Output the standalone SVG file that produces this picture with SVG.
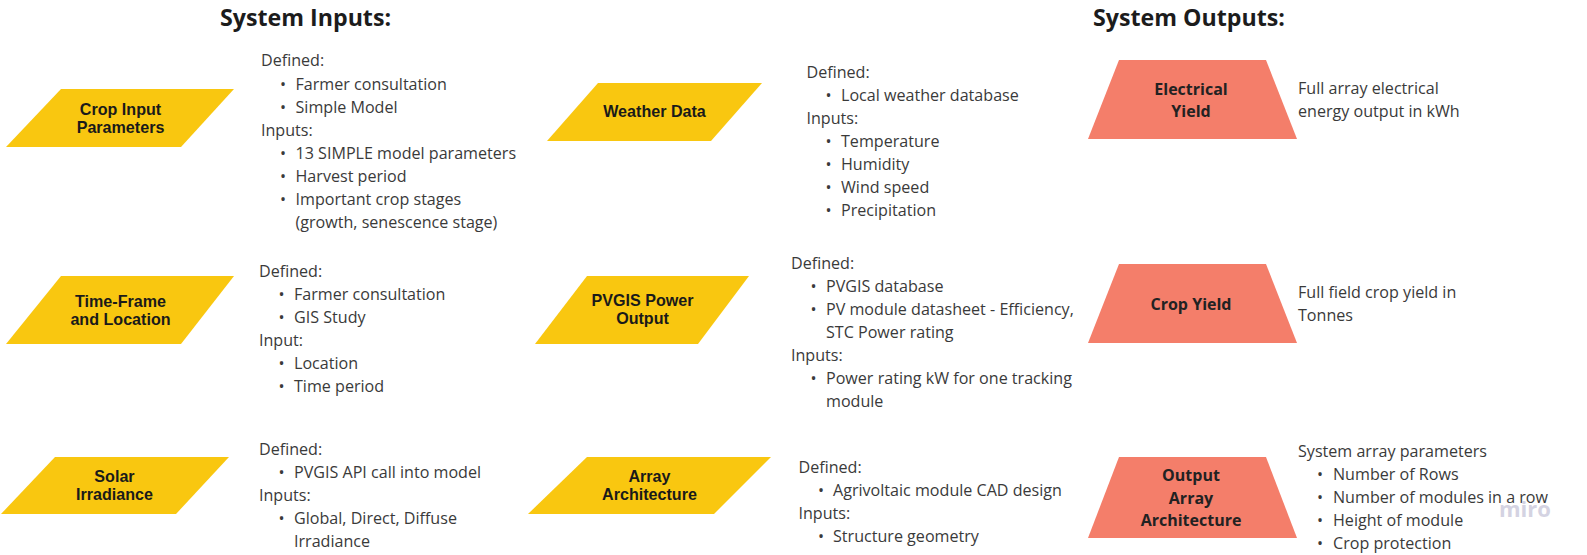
<svg xmlns="http://www.w3.org/2000/svg" width="1587" height="555" viewBox="0 0 1587 555">
<style>
.title{font-family:"Open Sans","Liberation Sans",sans-serif;font-weight:bold;font-size:23.2px;fill:#1c1c1c}
.in{fill:#F9C710}
.out{fill:#F47E6A}
.nl{font-family:"Liberation Sans",Arial,sans-serif;font-weight:bold;font-size:16.1px;fill:#1a1a1a;text-anchor:middle}
.ol{font-family:"Open Sans","Liberation Sans",sans-serif;font-weight:bold;font-size:16px;fill:#222;text-anchor:middle}
.tx{font-family:"Open Sans","Liberation Sans",sans-serif;font-size:16.1px;fill:#3a3a3a}
.miro{font-family:"Open Sans","Liberation Sans",sans-serif;font-weight:bold;font-size:22px;fill:#d4d3e2}
</style>
<rect width="1587" height="555" fill="#ffffff"/>
<text class="title" x="220" y="26">System Inputs:</text>
<text class="title" x="1093" y="26">System Outputs:</text>
<g id="connectors"></g>

<g id="crop-input">
<polygon class="in" points="61,89 234,89 181,147 6,147"/>
<text class="nl" x="120.5" y="115">Crop Input</text>
<text class="nl" x="120.5" y="133">Parameters</text>
<text class="tx" x="261" y="66">Defined:</text>
<text class="tx" x="280" y="90">•</text><text class="tx" x="295.5" y="90">Farmer consultation</text>
<text class="tx" x="280" y="113">•</text><text class="tx" x="295.5" y="113">Simple Model</text>
<text class="tx" x="261" y="136">Inputs:</text>
<text class="tx" x="280" y="159">•</text><text class="tx" x="295.5" y="159">13 SIMPLE model parameters</text>
<text class="tx" x="280" y="182">•</text><text class="tx" x="295.5" y="182">Harvest period</text>
<text class="tx" x="280" y="205">•</text><text class="tx" x="295.5" y="205">Important crop stages</text>
<text class="tx" x="295.5" y="228">(growth, senescence stage)</text>
</g>

<g id="time-frame">
<polygon class="in" points="61,276 234,276 181,344 6,344"/>
<text class="nl" x="120.5" y="307">Time-Frame</text>
<text class="nl" x="120.5" y="325">and Location</text>
<text class="tx" x="259" y="277">Defined:</text>
<text class="tx" x="278.5" y="300">•</text><text class="tx" x="294" y="300">Farmer consultation</text>
<text class="tx" x="278.5" y="323">•</text><text class="tx" x="294" y="323">GIS Study</text>
<text class="tx" x="259" y="346">Input:</text>
<text class="tx" x="278.5" y="369">•</text><text class="tx" x="294" y="369">Location</text>
<text class="tx" x="278.5" y="392">•</text><text class="tx" x="294" y="392">Time period</text>
</g>

<g id="solar">
<polygon class="in" points="55,457 229,457 176,514 1,514"/>
<text class="nl" x="114.5" y="482">Solar</text>
<text class="nl" x="114.5" y="500">Irradiance</text>
<text class="tx" x="259" y="455">Defined:</text>
<text class="tx" x="278.5" y="478">•</text><text class="tx" x="294" y="478">PVGIS API call into model</text>
<text class="tx" x="259" y="501">Inputs:</text>
<text class="tx" x="278.5" y="524">•</text><text class="tx" x="294" y="524">Global, Direct, Diffuse</text>
<text class="tx" x="294" y="547">Irradiance</text>
</g>

<g id="weather">
<polygon class="in" points="598,83 762,83 711,141 547,141"/>
<text class="nl" x="654.5" y="117">Weather Data</text>
<text class="tx" x="806.5" y="78">Defined:</text>
<text class="tx" x="825.5" y="101">•</text><text class="tx" x="841" y="101">Local weather database</text>
<text class="tx" x="806.5" y="124">Inputs:</text>
<text class="tx" x="825.5" y="147">•</text><text class="tx" x="841" y="147">Temperature</text>
<text class="tx" x="825.5" y="170">•</text><text class="tx" x="841" y="170">Humidity</text>
<text class="tx" x="825.5" y="193">•</text><text class="tx" x="841" y="193">Wind speed</text>
<text class="tx" x="825.5" y="216">•</text><text class="tx" x="841" y="216">Precipitation</text>
</g>

<g id="pvgis">
<polygon class="in" points="587,276 749,276 698,344 535,344"/>
<text class="nl" x="642.5" y="306">PVGIS Power</text>
<text class="nl" x="642.5" y="324">Output</text>
<text class="tx" x="791" y="269">Defined:</text>
<text class="tx" x="810.5" y="292">•</text><text class="tx" x="826" y="292">PVGIS database</text>
<text class="tx" x="810.5" y="315">•</text><text class="tx" x="826" y="315">PV module datasheet - Efficiency,</text>
<text class="tx" x="826" y="338">STC Power rating</text>
<text class="tx" x="791" y="361">Inputs:</text>
<text class="tx" x="810.5" y="384">•</text><text class="tx" x="826" y="384">Power rating kW for one tracking</text>
<text class="tx" x="826" y="407">module</text>
</g>

<g id="array">
<polygon class="in" points="587,457 771,457 714,514 528,514"/>
<text class="nl" x="649.5" y="482">Array</text>
<text class="nl" x="649.5" y="500">Architecture</text>
<text class="tx" x="798.5" y="473">Defined:</text>
<text class="tx" x="818" y="496">•</text><text class="tx" x="833" y="496">Agrivoltaic module CAD design</text>
<text class="tx" x="798.5" y="519">Inputs:</text>
<text class="tx" x="818" y="542">•</text><text class="tx" x="833" y="542">Structure geometry</text>
</g>

<g id="electrical-yield">
<polygon class="out" points="1119,60 1266,60 1297,139 1088,139"/>
<text class="ol" x="1191" y="95">Electrical</text>
<text class="ol" x="1191" y="117">Yield</text>
<text class="tx" x="1298" y="94">Full array electrical</text>
<text class="tx" x="1298" y="117">energy output in kWh</text>
</g>

<g id="crop-yield">
<polygon class="out" points="1119,264 1266,264 1297,343 1088,343"/>
<text class="ol" x="1191" y="310">Crop Yield</text>
<text class="tx" x="1298" y="298">Full field crop yield in</text>
<text class="tx" x="1298" y="321">Tonnes</text>
</g>

<g id="output-array">
<polygon class="out" points="1119,457 1266,457 1297,538 1088,538"/>
<text class="ol" x="1191" y="481">Output</text>
<text class="ol" x="1191" y="504">Array</text>
<text class="ol" x="1191" y="526">Architecture</text>
<text class="tx" x="1298" y="457">System array parameters</text>
<text class="tx" x="1317" y="480">•</text><text class="tx" x="1333" y="480">Number of Rows</text>
<text class="tx" x="1317" y="503">•</text><text class="tx" x="1333" y="503">Number of modules in a row</text>
<text class="tx" x="1317" y="526">•</text><text class="tx" x="1333" y="526">Height of module</text>
<text class="tx" x="1317" y="549">•</text><text class="tx" x="1333" y="549">Crop protection</text>
</g>

<text class="miro" x="1499" y="517">miro</text>
</svg>
